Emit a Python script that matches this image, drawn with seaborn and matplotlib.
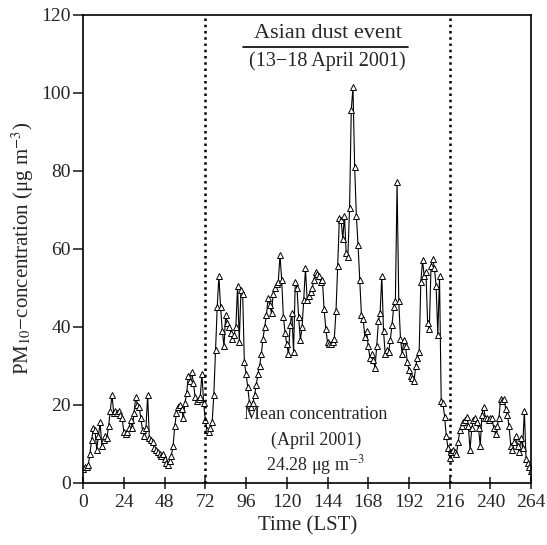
import numpy as np
import pandas as pd
import matplotlib
matplotlib.use("Agg")
import matplotlib.pyplot as plt
import seaborn as sns

# hourly PM10, hours 0..264
hours = list(range(265))
pm10 = [
    3.5, 4, 4, 4.5, 7.5, 11, 14, 13.5, 8.5, 12, 15.5, 9.5, 11, 12, 11.5, 14.5,
    18.5, 22.5, 18, 18.5, 18, 18.5, 17.5, 16.5, 13, 12.5, 13, 14, 16, 14, 18, 22,
    20, 19.5, 16.5, 13.5, 12, 14, 22.5, 11.5, 11, 10.5, 9, 8.5, 8, 7.5, 7, 7.5,
    6, 5, 4.5, 5.5, 7, 9.5, 14.5, 18, 19.5, 20, 19, 16.5, 20.5, 23, 27.5, 26,
    28.5, 25.5, 22, 21, 21.5, 22, 28, 20.5, 16, 13.5, 13, 14, 15.5, 22.5, 34, 45,
    53, 45, 39, 35, 43, 41, 40, 38.5, 37, 38, 40, 50.5, 36, 49.5, 48.5, 31,
    28, 24.5, 20.5, 19.5, 20.5, 22.5, 25, 28, 30, 33, 37, 40, 43, 47.5, 45.5, 43.5,
    48.5, 50, 51, 51.5, 58.5, 52, 42.5, 38.5, 35.5, 33, 40.5, 43.5, 33.5, 51.5, 50, 42.5,
    36.5, 40, 47, 55, 47, 48, 49, 50, 52, 54, 53.5, 53, 51.5, 52, 44.5, 39.5,
    36, 35.5, 35.5, 36, 37, 44, 55.5, 68, 67.5, 62.5, 68.5, 59, 58, 70.5, 95.5, 101.5,
    81, 68.5, 61, 52, 43, 42, 37.5, 39, 35, 32, 33, 31.5, 29.5, 35, 41.5, 43.5,
    53, 39, 33, 34, 33.5, 36.5, 40.5, 45, 46.5, 77, 46.5, 37, 33, 36.5, 35, 31,
    29, 27.5, 27, 26, 30, 32, 33.5, 51.5, 57, 53, 54, 41, 39.5, 55.5, 57.5, 55,
    50.5, 38, 53, 21, 20.5, 17, 12, 9, 6.5, 8, 8.5, 8, 7.5, 10.5, 13.5, 14.5,
    15.5, 16, 17, 14.5, 8.5, 14, 16, 16.5, 15.5, 14, 9.5, 17.5, 19.5, 16.5, 16.5, 16,
    16.5, 16.5, 14, 12.5, 14.5, 16.5, 21.5, 21, 21.5, 19, 17.5, 14.5, 9.5, 8.5, 10.5, 12,
    9.5, 8, 11.5, 9, 18.5, 6, 5, 4, 3,
]
event_bounds = [72, 216]
xticks = list(range(0, 265, 24))
yticks = list(range(0, 121, 20))

df = pd.DataFrame({"hour": hours, "pm10": pm10})

sns.set_style("ticks")
plt.rcParams["font.family"] = ["Liberation Serif", "DejaVu Serif"]
plt.rcParams["mathtext.fontset"] = "stix"

fig = plt.figure(figsize=(5.47, 5.45), dpi=100)
ax = fig.add_axes([0.152, 0.114, 0.819, 0.859])

sns.lineplot(data=df, x="hour", y="pm10", ax=ax, color="black", linewidth=0.8,
             marker="^", markersize=4.5, markerfacecolor="white",
             markeredgecolor="black", markeredgewidth=0.7)

for b in event_bounds:
    ax.axvline(b, color="black", linestyle=(0, (1, 1.5)), linewidth=1.8)

ax.set_xlim(0, 264)
ax.set_ylim(0, 120)
ax.set_xticks(xticks)
ax.set_yticks(yticks)
ax.tick_params(axis="both", labelsize=14, width=1.2)
ax.tick_params(axis="y", direction="out", length=7, pad=2)
ax.tick_params(axis="x", direction="inout", length=8, pad=4)
for s in ax.spines.values():
    s.set_linewidth(1.2)
    s.set_color("black")

ax.set_xlabel("Time (LST)", fontsize=15)
ax.set_ylabel("PM$_{10}$−concentration (μg m$^{-3}$)", fontsize=15)

ax.text(144, 115.3, "Asian dust event", ha="center", va="center", fontsize=16)
ax.plot([94, 191.5], [111.6, 111.6], color="black", linewidth=1.2)
ax.text(144, 108, "(13−18 April 2001)", ha="center", va="center", fontsize=14.5)

ax.text(137, 17.5, "Mean concentration", ha="center", va="center", fontsize=13)
ax.text(137, 11, "(April 2001)", ha="center", va="center", fontsize=13)
ax.text(137, 4.7, "24.28 μg m$^{-3}$", ha="center", va="center", fontsize=13)

fig.savefig("out.png", dpi=100)
